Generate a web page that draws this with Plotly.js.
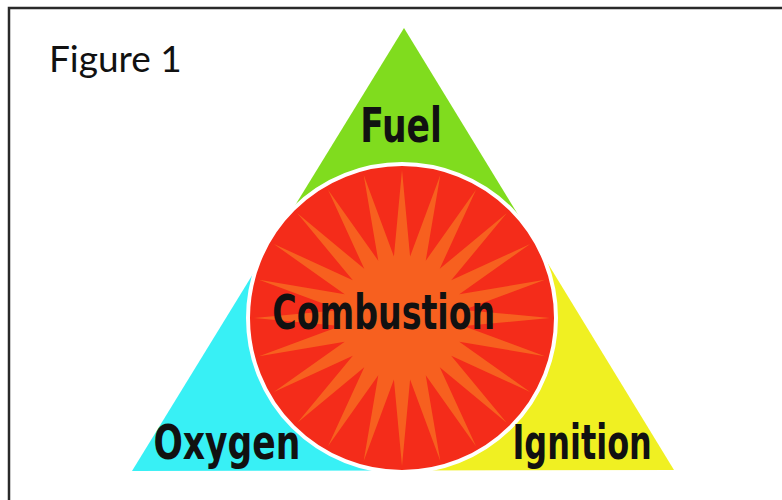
<!DOCTYPE html>
<html>
<head>
<meta charset="utf-8">
<script src="https://cdn.plot.ly/plotly-3.0.1.min.js"></script>
<style>html,body{margin:0;padding:0;background:#fff;}#chart{width:782px;height:500px;}</style>
</head>
<body>
<div id="chart"></div>
<script>
// Fire triangle diagram values (pixel-like data units)
const triangleX = [404, 132, 674];      // apex, bottom-left, bottom-right
const triangleY = [28, 471, 470];
const regionNames = ['Fuel', 'Oxygen', 'Ignition'];
const regionColors = ['#80dc1e', '#38f0f5', '#f0f022'];
const circleCenter = [402, 318];
const circleRadius = 152;
const starSpikes = 24;
const starInner = 62;
const starOuter = 148;
const labelText = ['Fuel', 'Combustion', 'Oxygen', 'Ignition'];
const labelX = [401, 384, 227, 582];
const labelY = [125, 312, 442, 442];
const labelSqueeze = [0.8, 0.77, 0.8, 0.74];
const figureTitle = 'Figure 1';

function foot(ax, ay, bx, by, px, py) {
  const dx = bx - ax, dy = by - ay;
  const t = ((px - ax) * dx + (py - ay) * dy) / (dx * dx + dy * dy);
  return [ax + t * dx, ay + t * dy];
}
const [cx, cy] = circleCenter;
const A = [triangleX[0], triangleY[0]], B = [triangleX[1], triangleY[1]], C = [triangleX[2], triangleY[2]];
const fL = foot(A[0], A[1], B[0], B[1], cx, cy);
const fR = foot(A[0], A[1], C[0], C[1], cx, cy);
const fB = foot(B[0], B[1], C[0], C[1], cx, cy);
function pathOf(pts) { return 'M' + pts.map(p => p[0].toFixed(2) + ',' + p[1].toFixed(2)).join(' L') + ' Z'; }
const regions = [
  [A, fL, [cx, cy], fR],
  [B, fB, [cx, cy], fL],
  [C, fR, [cx, cy], fB]
];
const shapes = [];
regions.forEach((r, i) => shapes.push({type: 'path', xref: 'x', yref: 'y', path: pathOf(r), fillcolor: regionColors[i], line: {width: 0}}));
shapes.push({type: 'circle', xref: 'x', yref: 'y', x0: cx - circleRadius - 2, x1: cx + circleRadius + 2, y0: cy - circleRadius - 2, y1: cy + circleRadius + 2, fillcolor: '#f42c1a', line: {color: '#ffffff', width: 4}});
const star = [];
for (let k = 0; k < starSpikes * 2; k++) {
  const ang = -Math.PI / 2 + k * Math.PI / starSpikes;
  const rr = (k % 2 === 0) ? starOuter : starInner;
  star.push([cx + rr * Math.cos(ang), cy + rr * Math.sin(ang)]);
}
shapes.push({type: 'path', xref: 'x', yref: 'y', path: pathOf(star), fillcolor: '#f7601f', line: {width: 0}});
shapes.push({type: 'rect', xref: 'x', yref: 'y', x0: 9, x1: 800, y0: 8, y1: 520, line: {color: '#2a2a2a', width: 2.5}, fillcolor: 'rgba(0,0,0,0)'});

const annotations = labelText.map((t, i) => ({
  x: labelX[i], y: labelY[i], xref: 'x', yref: 'y', text: t, showarrow: false,
  xanchor: 'center', yanchor: 'middle',
  font: {family: '"DejaVu Sans Condensed", "Liberation Sans Narrow", sans-serif', size: 48, color: '#111', weight: 'bold'}
}));
annotations.push({x: 47, y: 57, xref: 'x', yref: 'y', text: figureTitle, showarrow: false, xanchor: 'left', yanchor: 'middle',
  font: {family: 'Lato, "Open Sans", sans-serif', size: 37, color: '#111'}});

const data = [{x: triangleX, y: triangleY, type: 'scatter', mode: 'markers', marker: {opacity: 0}, hoverinfo: 'skip', showlegend: false}];
const layout = {
  width: 782, height: 500, margin: {l: 0, r: 0, t: 0, b: 0},
  paper_bgcolor: '#ffffff', plot_bgcolor: '#ffffff',
  xaxis: {range: [0, 782], visible: false, fixedrange: true},
  yaxis: {range: [500, 0], visible: false, fixedrange: true},
  shapes: shapes, annotations: annotations, showlegend: false
};
Plotly.newPlot('chart', data, layout, {displayModeBar: false, staticPlot: true}).then(gd => {
  gd.querySelectorAll('text.annotation-text').forEach(el => {
    const idx = labelText.indexOf(el.getAttribute('data-unformatted'));
    if (idx >= 0) {
      el.style.transformBox = 'fill-box';
      el.style.transformOrigin = 'center';
      el.style.transform = 'scaleX(' + labelSqueeze[idx] + ')';
    }
  });
});
</script>
</body>
</html>
